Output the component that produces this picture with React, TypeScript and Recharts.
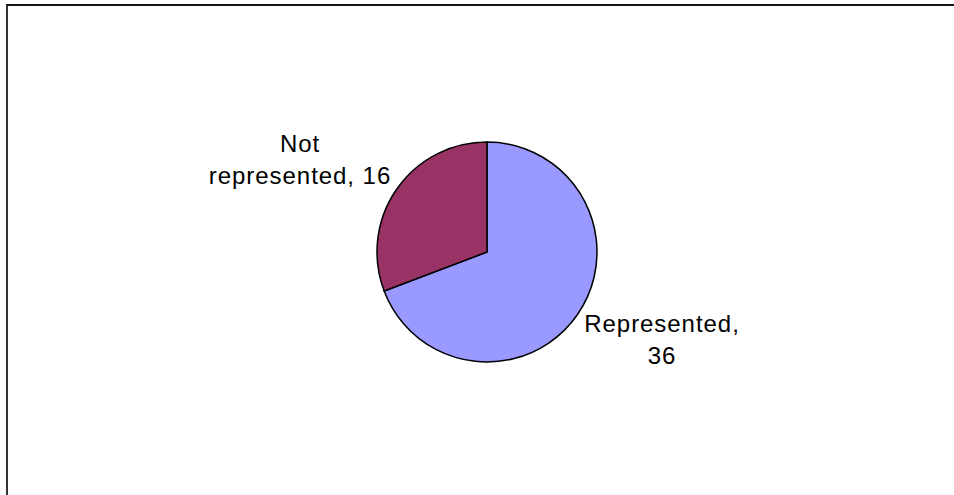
import { PieChart, Pie, Cell } from 'recharts';

const categories = ['Represented', 'Not represented'];
const counts = [36, 16];
const sliceColors = ['#9999FF', '#993366'];

// label placement relative to the pie centre (first-line baseline)
const labelOffsets = [
  { dx: 175, dy: 80, lines: (name: string, v: number) => [`${name},`, `${v}`] },
  { dx: -187, dy: -100, lines: (name: string, v: number) => ['Not', `represented, ${v}`] },
];

const data = categories.map((name, i) => ({ name, value: counts[i] }));

function renderLabel(props: any) {
  const { cx, cy, index, name, value } = props;
  const off = labelOffsets[index];
  const lines = off.lines(name, value);
  return (
    <text
      x={cx + off.dx}
      y={cy + off.dy}
      textAnchor="middle"
      fill="#000"
      fontSize={24}
      letterSpacing={0.95}
      fontFamily="'Liberation Sans', Arial, sans-serif"
    >
      {lines.map((line, i) => (
        <tspan key={i} x={cx + off.dx} dy={i === 0 ? 0 : 32}>
          {line}
        </tspan>
      ))}
    </text>
  );
}

export default function App() {
  return (
    <div
      style={{
        position: 'fixed',
        left: 0,
        top: 0,
        width: 954,
        height: 495,
        overflow: 'hidden',
        background: '#fff',
      }}
    >
      <div
        style={{
          position: 'absolute',
          left: 6,
          top: 4,
          width: 960,
          height: 500,
          borderTop: '2px solid #151515',
          borderLeft: '2px solid #333',
        }}
      />
      <div style={{ position: 'absolute', left: 0, top: 0 }}>
        <PieChart width={954} height={495} margin={{ top: 0, right: 0, bottom: 0, left: 0 }}>
          <Pie
            data={data}
            dataKey="value"
            nameKey="name"
            cx={487}
            cy={252}
            outerRadius={110}
            startAngle={90}
            endAngle={-270}
            stroke="#000"
            strokeWidth={1.5}
            label={renderLabel}
            labelLine={false}
            isAnimationActive={false}
          >
            {data.map((d, i) => (
              <Cell key={d.name} fill={sliceColors[i]} />
            ))}
          </Pie>
        </PieChart>
      </div>
    </div>
  );
}
